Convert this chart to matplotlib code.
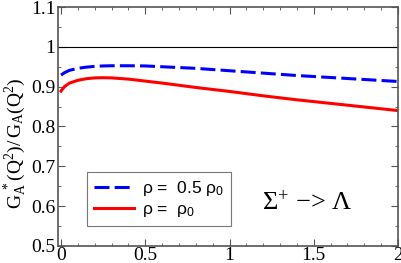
import matplotlib
matplotlib.use("Agg")
import matplotlib.pyplot as plt
from matplotlib.ticker import MultipleLocator

plt.rcParams['font.family'] = ['Liberation Serif', 'DejaVu Serif']
plt.rcParams['mathtext.fontset'] = 'custom'
plt.rcParams['mathtext.rm'] = 'Liberation Serif'
plt.rcParams['mathtext.it'] = 'Liberation Serif:italic'
plt.rcParams['mathtext.sf'] = 'Liberation Sans'

q2 = [0.0, 0.02, 0.05, 0.1, 0.15, 0.2, 0.25, 0.3, 0.4, 0.5, 0.6, 0.8, 1.0, 1.2, 1.4, 1.6, 1.8, 2.0]
half_rho = [0.929, 0.935, 0.941, 0.946, 0.949, 0.951, 0.952, 0.9525, 0.9525, 0.952, 0.950, 0.946, 0.940, 0.934, 0.928, 0.923, 0.918, 0.913]
full_rho = [0.889, 0.900, 0.909, 0.916, 0.920, 0.922, 0.9225, 0.922, 0.919, 0.914, 0.909, 0.898, 0.888, 0.877, 0.867, 0.858, 0.849, 0.840]

fig = plt.figure(figsize=(4.02, 2.63), dpi=100)
ax = fig.add_axes([58/402, 1-246/263, (398-58)/402, (246-7)/263])

ax.axhline(1.0, color='black', lw=0.8)
ax.plot(q2, half_rho, color='#0000ff', lw=2.2, dashes=(4.9, 1.7), label=r'ρ =  0.5 ρ$_{\mathsf{0}}$')
ax.plot(q2, full_rho, color='#ff0000', lw=2.2, label=r'ρ =  ρ$_{\mathsf{0}}$')

ax.set_xlim(-0.018, 2)
ax.set_ylim(0.5, 1.1)
ax.xaxis.set_minor_locator(MultipleLocator(0.1))
ax.yaxis.set_minor_locator(MultipleLocator(0.05))
ax.set_xticks([0, 0.5, 1, 1.5, 2])
ax.set_xticklabels(['0', '0.5', '1', '1.5', '2'])
ax.set_yticks([0.5, 0.6, 0.7, 0.8, 0.9, 1.0, 1.1])
ax.set_yticklabels(['0.5', '0.6', '0.7', '0.8', '0.9', '1', '1.1'])
ax.tick_params(which='both', direction='in', top=True, right=True, labelsize=14, color='#555555')
ax.tick_params(which='major', length=5)
ax.tick_params(which='minor', length=2.5)
ax.tick_params(axis='x', pad=1)
ax.tick_params(axis='y', pad=2)
for s in ax.spines.values():
    s.set_color('#555555')
    s.set_linewidth(1.2)

ax.set_ylabel(r'$\mathrm{G_A^{\ *}(Q^2)/\,G_A(Q^2)}$', fontsize=14)
ax.yaxis.set_label_coords(-0.088, 0.43)

leg = ax.legend(loc='lower left', bbox_to_anchor=(0.085, 0.084), fontsize=12.5,
                frameon=True, fancybox=False, edgecolor='#555555', handlelength=2.3,
                borderpad=0.4, labelspacing=0.2, handletextpad=0.5, borderaxespad=0,
                prop={'family': 'Liberation Sans', 'size': 12.5})
leg.get_frame().set_linewidth(0.8)

ax.text(0.734, 0.18, r'$\Sigma^{+}$ −> $\Lambda$', transform=ax.transAxes, fontsize=19,
        ha='center', va='center')

fig.savefig('out.png', dpi=100)
